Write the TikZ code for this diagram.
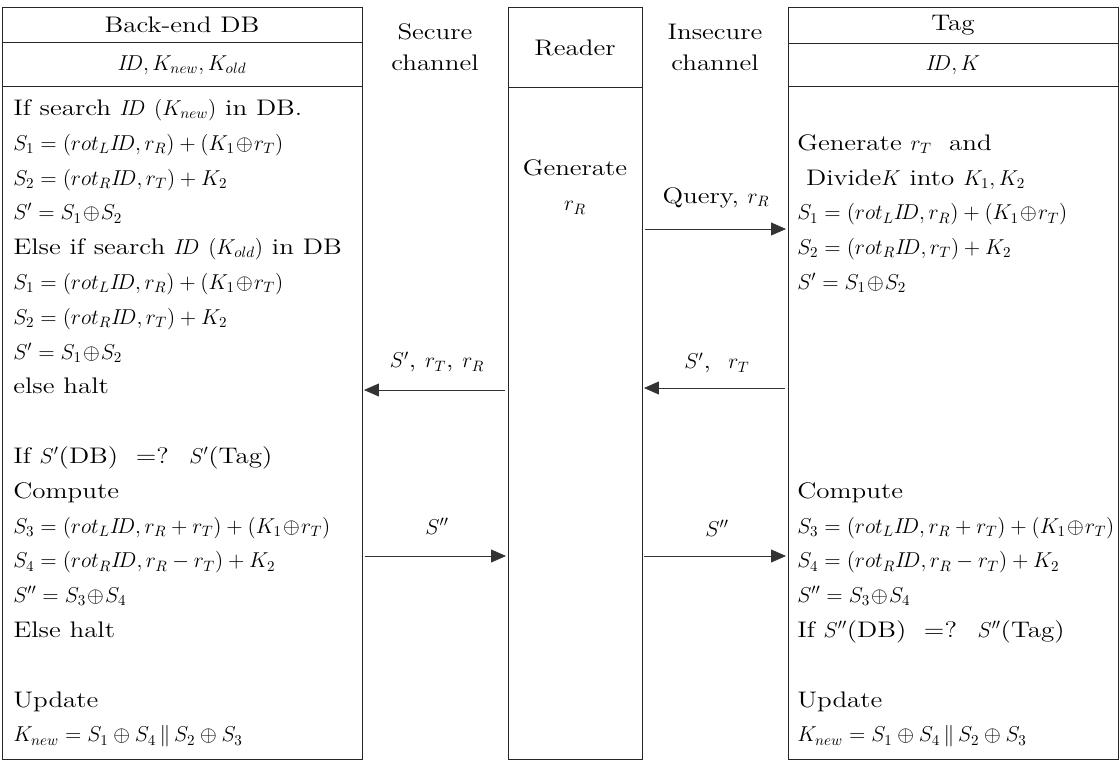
\RequirePackage{fix-cm}
\documentclass[tikz,border=0pt]{standalone}
\usepackage{fontspec}
\setmainfont{lmroman12-regular.otf}[FakeStretch=1.2]
\DeclareMathSizes{16}{15.3}{10.7}{7.6}
\usetikzlibrary{arrows.meta}
\newcommand{\xor}{\mathbin{\!\oplus\!}}

\begin{document}
\begin{tikzpicture}[x=0.025cm, y=-0.025cm,
    every node/.style={font=\fontsize{16}{20}\selectfont},
    lane/.style={draw=black!85, line width=0.7pt},
    msg/.style={-{Triangle[length=0.37cm, width=0.32cm]}, draw=black!80, line width=0.6pt},
    row/.style={anchor=base west, inner sep=0pt}
]
\useasboundingbox (0,0) rectangle (1120,763);

% the three parties
\draw[lane] (2,7) rectangle (362,759);
\draw[lane] (2,42) -- (362,42) (2,86) -- (362,86);
\draw[lane] (508,7) rectangle (642,759);
\draw[lane] (508,87) -- (642,87);
\draw[lane] (788,7) rectangle (1118,759);
\draw[lane] (788,43) -- (1118,43) (788,86) -- (1118,86);

\node (dbhead) at (182,25) {Back-end DB};
\node (dbkeys) at (182,65) {$I\!D, K_{new}, K_{old}$};
\node (reader) at (575,48) {Reader};
\node (taghead) at (953,25) {Tag};
\node (tagkeys) at (953,65) {$I\!D, K$};
\node[align=center] (secure) at (435,47) {Secure\\[2pt]channel};
\node[align=center] (insecure) at (715,47) {Insecure\\[2pt]channel};
\node[align=center] (gen) at (575,187) {Generate\\[5pt]$r_R$};

% back-end DB
\foreach \r/\t in {
    1/{If search $I\!D$ $(K_{new})$ in DB.},
    2/{$S_1=(rot_L I\!D, r_R)+(K_1\xor r_T)$},
    3/{$S_2=(rot_R I\!D, r_T)+K_2$},
    4/{$S'=S_1\xor S_2$},
    5/{Else if search $I\!D$ $(K_{old})$ in DB},
    6/{$S_1=(rot_L I\!D, r_R)+(K_1\xor r_T)$},
    7/{$S_2=(rot_R I\!D, r_T)+K_2$},
    8/{$S'=S_1\xor S_2$},
    9/{else halt},
    11/{If $S'$(DB) \ =? \ $S'$(Tag)},
    12/{Compute},
    13/{$S_3=(rot_L I\!D, r_R+r_T)+(K_1\xor r_T)$},
    14/{$S_4=(rot_R I\!D, r_R-r_T)+K_2$},
    15/{$S''=S_3\xor S_4$},
    16/{Else halt},
    18/{Update},
    19/{$K_{new}=S_1\oplus S_4\,\|\,S_2\oplus S_3$}}
    \node[row] (db\r) at (13,80.6+34.8*\r) {\t};

% tag
\foreach \r/\t in {
    2/{Generate $r_T$ \ and},
    3/{\ Divide$K$ into $K_1, K_2$},
    4/{$S_1=(rot_L I\!D, r_R)+(K_1\xor r_T)$},
    5/{$S_2=(rot_R I\!D, r_T)+K_2$},
    6/{$S'=S_1\xor S_2$},
    12/{Compute},
    13/{$S_3=(rot_L I\!D, r_R+r_T)+(K_1\xor r_T)$},
    14/{$S_4=(rot_R I\!D, r_R-r_T)+K_2$},
    15/{$S''=S_3\xor S_4$},
    16/{If $S''$(DB) \ =? \ $S''$(Tag)},
    18/{Update},
    19/{$K_{new}=S_1\oplus S_4\,\|\,S_2\oplus S_3$}}
    \node[row] (tag\r) at (797,80.6+34.8*\r) {\t};

% messages
\coordinate (rdQ) at (645,229);
\coordinate (tgQ) at (786,229);
\coordinate (rdA) at (505,390);
\coordinate (dbA) at (364,390);
\coordinate (tgB) at (785,388);
\coordinate (rdB) at (644,388);
\coordinate (dbC) at (365,556);
\coordinate (rdC) at (506,556);
\coordinate (rdD) at (644,556);
\coordinate (tgD) at (786,556);

\draw[msg] (rdQ) -- (tgQ);
\draw[msg] (rdA) -- (dbA);
\draw[msg] (tgB) -- (rdB);
\draw[msg] (dbC) -- (rdC);
\draw[msg] (rdD) -- (tgD);

\node (lblQ) at (716,198) {Query, $r_R$};
\node (lblA) at (437,362) {$S'$, $r_T$, $r_R$};
\node (lblB) at (717,363) {$S'$, \ $r_T$};
\node (lblC) at (437,526) {$S''$};
\node (lblD) at (717,528) {$S''$};

\end{tikzpicture}
\end{document}
